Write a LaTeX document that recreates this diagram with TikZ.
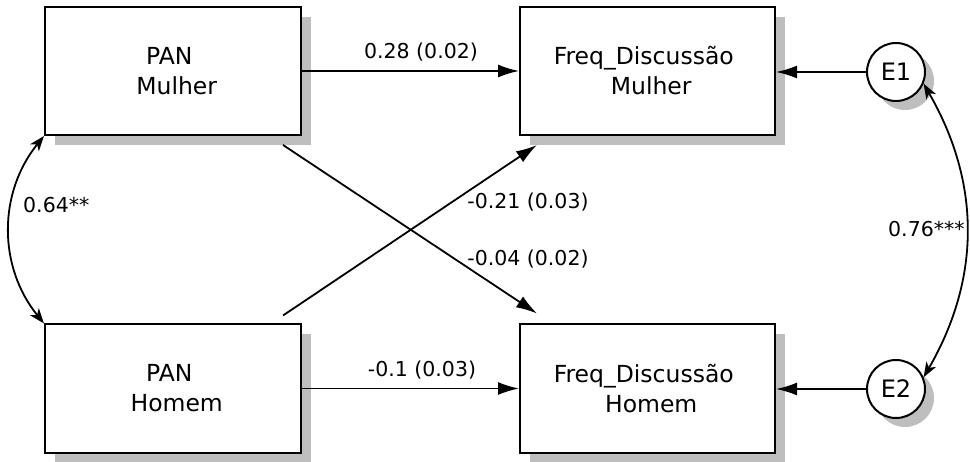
\documentclass[tikz,border=0pt]{standalone}
\usepackage{fontspec}
\setmainfont{DejaVu Sans}
\usetikzlibrary{arrows.meta,shadows,calc}
\definecolor{shadowgray}{RGB}{190,190,190}
\begin{document}
\begin{tikzpicture}[x=1pt,y=1pt,
  box/.style={draw, line width=2pt, fill=white, minimum width=256pt, minimum height=128pt,
    align=center, inner sep=0pt, font=\fontsize{23.5}{30}\selectfont,
    drop shadow={shadow xshift=10pt, shadow yshift=-10pt, fill=shadowgray, opacity=1}},
  err/.style={draw, circle, line width=2pt, fill=white, minimum size=58pt, inner sep=0pt,
    font=\fontsize{24}{28}\selectfont,
    drop shadow={shadow xshift=9pt, shadow yshift=-9pt, fill=shadowgray, opacity=1}},
  arr/.style={line width=1.8pt, -{Latex[length=21pt,width=13pt]}},
  cov/.style={line width=1.8pt, {Stealth[length=15pt,width=11pt,inset=4pt]}-{Stealth[length=15pt,width=11pt,inset=4pt]}},
  lbl/.style={font=\fontsize{20.5}{24}\selectfont, inner sep=0pt}
]
\useasboundingbox (0,0) rectangle (970,461);

\node[box] (pm) at (173,390) {PAN\hphantom{\ }\\\hphantom{\ }Mulher};
\node[box] (ph) at (173,72.5) {PAN\hphantom{\ }\\\hphantom{\ }Homem};
\node[box, minimum width=255pt] (fm) at (647.5,390) {Freq\_Discussão\hphantom{\ }\\\hphantom{\ }Mulher};
\node[box, minimum width=255pt] (fh) at (647.5,72.5) {Freq\_Discussão\hphantom{\ }\\\hphantom{\ }Homem};
\node[err] (e1) at (896,389) {E1};
\node[err] (e2) at (896,72) {E2};

% direct paths
\draw[arr] (pm.east) -- (pm.east -| fm.west);
\draw[arr] (ph.east) -- (ph.east -| fh.west);
\draw[arr] (e1.west) -- (e1.west -| fm.east);
\draw[arr] (e2.west) -- (e2.west -| fh.east);

% cross paths
\draw[arr] ($(pm.south east)+(-19,-9)$) -- ($(fh.north west)+(18,10)$);
\draw[arr] ($(ph.north east)+(-19,8)$) -- ($(fm.south west)+(18,-9)$);

% covariances
\draw[cov] (pm.south west) to[bend right=39] (ph.north west);
\draw[cov] (e1.-23) to[bend left=30] (e2.23);

% labels
\node[lbl, anchor=base] (l1) at (421,402) {0.28 (0.02)};
\node[lbl, anchor=base] (l2) at (422,84) {-0.1 (0.03)};
\node[lbl, anchor=base] (l3) at (528,252) {-0.21 (0.03)};
\node[lbl, anchor=base] (l4) at (528,195) {-0.04 (0.02)};
\node[lbl, anchor=base west] (l5) at (23,248) {0.64**};
\node[lbl, anchor=base west] (l6) at (888,224) {0.76***};
\end{tikzpicture}
\end{document}
